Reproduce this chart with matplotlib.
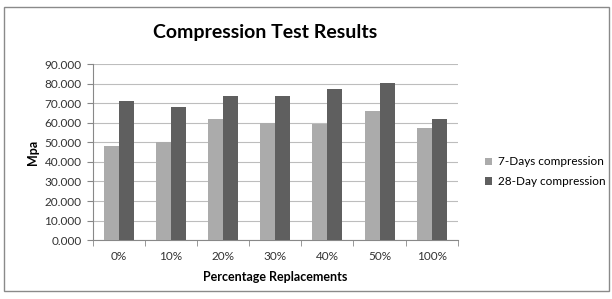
import matplotlib
matplotlib.use("Agg")
import matplotlib.pyplot as plt
import numpy as np
from matplotlib.patches import Rectangle

categories = ['0%', '10%', '20%', '30%', '40%', '50%', '100%']
days7 = [48.3, 50.4, 61.8, 59.9, 59.4, 65.9, 57.2]
days28 = [71.2, 68.0, 73.8, 73.8, 77.2, 80.3, 62.2]
yticks = [0, 10, 20, 30, 40, 50, 60, 70, 80, 90]

plt.rcParams['font.family'] = ['Lato', 'DejaVu Sans']

fig = plt.figure(figsize=(6.12, 2.99), dpi=100)
ax = fig.add_axes([0.1515, 0.197, 0.5965, 0.588])

x = np.arange(len(categories))
w = 0.287
ax.bar(x - w / 2, days7, w, color='#ababab', label='7-Days compression', zorder=3)
ax.bar(x + w / 2, days28, w, color='#5f5f5f', label='28-Day compression', zorder=3)

ax.set_xlim(-0.5, len(categories) - 0.5)
ax.set_ylim(0, 90)
ax.set_yticks(yticks)
ax.set_yticklabels(['%.3f' % v for v in yticks], fontsize=8.5, color='#333333')
ax.set_xticks(x)
ax.set_xticklabels(categories, fontsize=8.5, color='#333333')
ax.set_xticks(np.arange(len(categories) + 1) - 0.5, minor=True)
ax.tick_params(axis='x', which='major', length=0, pad=8)
ax.tick_params(axis='x', which='minor', length=4, color='#888888', direction='out')
ax.tick_params(axis='y', length=4, color='#888888', pad=4)
ax.grid(axis='y', color='#bdbdbd', linewidth=0.8, zorder=0)
for s in ['top', 'right']:
    ax.spines[s].set_visible(False)
ax.spines['left'].set_color('#888888')
ax.spines['bottom'].set_color('#888888')

ax.set_ylabel('Mpa', fontsize=9, fontweight='bold', labelpad=4)
ax.set_xlabel('Percentage Replacements', fontsize=9, fontweight='bold', labelpad=6)

fig.text(0.433, 0.89, 'Compression Test Results', ha='center', va='center',
         fontsize=14, fontweight='bold')

fig.legend(loc='center left', bbox_to_anchor=(0.775, 0.425), frameon=False,
           fontsize=8.5, handlelength=0.6, handleheight=0.6, handletextpad=0.5,
           labelspacing=0.75)

fig.patches.append(Rectangle((4 / 612, 8 / 299), 605 / 612, 284 / 299,
                             transform=fig.transFigure, fill=False,
                             edgecolor='#8a8a8a', linewidth=1.0))

fig.savefig('out.png', dpi=100)
